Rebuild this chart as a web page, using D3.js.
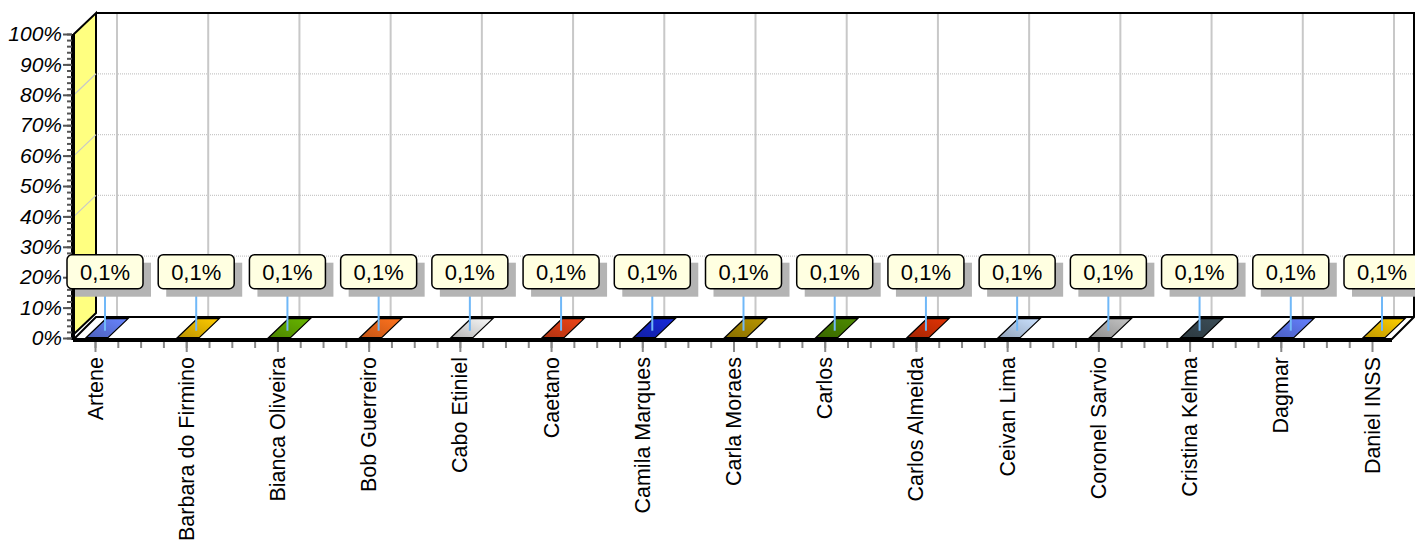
<!DOCTYPE html>
<html>
<head>
<meta charset="utf-8">
<script src="https://cdn.jsdelivr.net/npm/d3@7"></script>
<style>
  body { margin: 0; background: #fff; }
  svg { display: block; font-family: Arial, "Liberation Sans", sans-serif; }
</style>
</head>
<body>
<svg id="chart"></svg>
<script>
// data
let categories = ["Artene", "Barbara do Firmino", "Bianca Oliveira", "Bob Guerreiro", "Cabo Etiniel",
	"Caetano", "Camila Marques", "Carla Moraes", "Carlos", "Carlos Almeida", "Ceivan Lima",
	"Coronel Sarvio", "Cristina Kelma", "Dagmar", "Daniel INSS"];
let values = [0.1, 0.1, 0.1, 0.1, 0.1, 0.1, 0.1, 0.1, 0.1, 0.1, 0.1, 0.1, 0.1, 0.1, 0.1];
let barColors = ["#5b73e0", "#e0b000", "#5a9e00", "#e8641a", "#d8d8d8", "#d03c14", "#1424c0",
	"#a08200", "#447a00", "#c42c04", "#b0c4e0", "#aaaaaa", "#34444c", "#5870e4", "#e4b400"];
let yTicks = [0, 10, 20, 30, 40, 50, 60, 70, 80, 90, 100];
let yGrid = [20, 40, 60, 80];

let width = 1415;
let height = 544;
let dx = 22, dy = 21;           // 3d depth offset
let left = 74, right = 1392;    // front plane
let y0 = 338, y100 = 34;

let svg = d3.select('#chart').attr('width', width).attr('height', height);

let y = d3.scaleLinear().domain([0, 100]).range([y0, y100]);
let x = d3.scalePoint().domain(categories).range([95, 1372]);
let xi = d3.scaleLinear().domain([0, categories.length - 1]).range([95, 1372]);

let pct = d3.formatLocale({decimal: ",", thousands: ".", grouping: [3], currency: ["", ""]}).format(".1f");

// gradients for bars
let defs = svg.append('defs');
barColors.forEach((c, i) => {
	let g = defs.append('linearGradient').attr('id', 'grad' + i)
		.attr('x1', '100%').attr('y1', '0%').attr('x2', '0%').attr('y2', '100%');
	g.append('stop').attr('offset', '0%').attr('stop-color', d3.color(c).brighter(0.4));
	g.append('stop').attr('offset', '100%').attr('stop-color', d3.color(c).darker(0.5));
});

// back wall
svg.append('rect')
	.attr('x', left + dx).attr('y', y100 - dy)
	.attr('width', width - 1 - (left + dx)).attr('height', y0 - y100)
	.attr('fill', '#fff');

// vertical grid on back wall
svg.append('g').selectAll('line')
	.data(categories).join('line')
	.attr('x1', d => x(d) + dx).attr('x2', d => x(d) + dx)
	.attr('y1', y100 - dy).attr('y2', y0 - dy)
	.attr('stroke', '#c8c8c8').attr('stroke-width', 2);

// horizontal grid (dotted) on back wall
svg.append('g').selectAll('line')
	.data(yGrid).join('line')
	.attr('x1', left + dx).attr('x2', width - 1)
	.attr('y1', d => y(d) - dy).attr('y2', d => y(d) - dy)
	.attr('stroke', '#c8c8c8').attr('stroke-width', 1.2).attr('stroke-dasharray', '1,1');

// back wall border
svg.append('path')
	.attr('d', `M${left + dx},${y100 - dy}H${width - 1}V${y0 - dy}`)
	.attr('fill', 'none').attr('stroke', '#000').attr('stroke-width', 2);

// left (yellow) wall
svg.append('path')
	.attr('d', `M${left},${y100}L${left + dx},${y100 - dy}V${y0 - dy - 4}L${left},${y0 - 4}Z`)
	.attr('fill', '#ffff80').attr('stroke', '#000').attr('stroke-width', 2);

svg.append('g').selectAll('line')
	.data(yGrid).join('line')
	.attr('x1', left).attr('x2', left + dx)
	.attr('y1', d => y(d)).attr('y2', d => y(d) - dy)
	.attr('stroke', '#c8c8c8').attr('stroke-width', 1.2);

// floor
svg.append('path')
	.attr('d', `M${left},${y0 + 1}L${left + dx},${y0 - dy}H${width - 1}L${right},${y0 + 1}Z`)
	.attr('fill', '#fff').attr('stroke', '#000').attr('stroke-width', 2);

// bars (very flat 3d bars)
let bars = svg.append('g');
categories.forEach((c, i) => {
	let x0 = x(c) - 9, x1 = x(c) + 13;
	let yt = y(values[i]);
	let bdx = 20, bdy = 19;
	bars.append('path')
		.attr('d', `M${x0},${yt}L${x0 + bdx},${yt - bdy}L${x1 + bdx},${yt - bdy}L${x1},${yt}Z`)
		.attr('fill', `url(#grad${i})`).attr('stroke', '#000').attr('stroke-width', 1.2);
});

// front axis line + left axis line
svg.append('line')
	.attr('x1', left - 1).attr('x2', right).attr('y1', y0 + 2).attr('y2', y0 + 2)
	.attr('stroke', '#000').attr('stroke-width', 4);
svg.append('line')
	.attr('x1', left - 1).attr('x2', left - 1).attr('y1', y100).attr('y2', y0 + 2)
	.attr('stroke', '#000').attr('stroke-width', 4);

// y axis
let yMinor = svg.append('g').attr('transform', `translate(${left - 2},0)`)
	.call(d3.axisLeft(y).tickValues(d3.range(0, 101, 2)).tickSize(5).tickFormat(''));
let yMajor = svg.append('g').attr('transform', `translate(${left - 2},0)`)
	.call(d3.axisLeft(y).tickValues(yTicks).tickSize(9).tickPadding(1).tickFormat(d => d + '%'));
[yMinor, yMajor].forEach(g => {
	g.select('.domain').remove();
	g.selectAll('.tick line').attr('stroke', '#555').attr('stroke-width', 2);
});
yMajor.selectAll('.tick text')
	.attr('font-size', 21).attr('font-style', 'italic').attr('fill', '#000')
	.attr('font-family', 'Arial, "Liberation Sans", sans-serif');

// x axis
let xMinor = svg.append('g').attr('transform', `translate(0,${y0 + 4})`)
	.call(d3.axisBottom(xi).tickValues(d3.range(0, categories.length - 1, 0.25)).tickSize(6).tickFormat(''));
let xMajor = svg.append('g').attr('transform', `translate(0,${y0 + 4})`)
	.call(d3.axisBottom(x).tickSize(10).tickFormat(''));
[xMinor, xMajor].forEach(g => {
	g.select('.domain').remove();
	g.selectAll('.tick line').attr('stroke', '#888').attr('stroke-width', 2);
});

svg.append('g').selectAll('text')
	.data(categories).join('text')
	.attr('transform', d => `translate(${x(d)},357) rotate(-90)`)
	.attr('text-anchor', 'end')
	.attr('dy', '0.35em')
	.attr('font-size', 21.5)
	.attr('fill', '#000')
	.text(d => d);

// value labels
let labels = svg.append('g');
categories.forEach((c, i) => {
	let cx = x(c) + 10;
	let bottom = y(values[i]) - 49;
	let w = 76, h = 34;
	labels.append('line')
		.attr('x1', cx).attr('x2', cx).attr('y1', bottom).attr('y2', y(values[i]) - 7)
		.attr('stroke', '#70b8f8').attr('stroke-width', 2);
	labels.append('rect')
		.attr('x', cx - w / 2 + 8).attr('y', bottom - h + 8)
		.attr('width', w).attr('height', h)
		.attr('fill', '#b4b4b4');
	labels.append('rect')
		.attr('x', cx - w / 2).attr('y', bottom - h)
		.attr('width', w).attr('height', h).attr('rx', 5)
		.attr('fill', '#ffffe1').attr('stroke', '#000').attr('stroke-width', 1.5);
	labels.append('text')
		.attr('x', cx).attr('y', bottom - h / 2).attr('dy', '0.36em')
		.attr('text-anchor', 'middle').attr('font-size', 22).attr('fill', '#000')
		.text(pct(values[i]) + '%');
});
</script>
</body>
</html>
